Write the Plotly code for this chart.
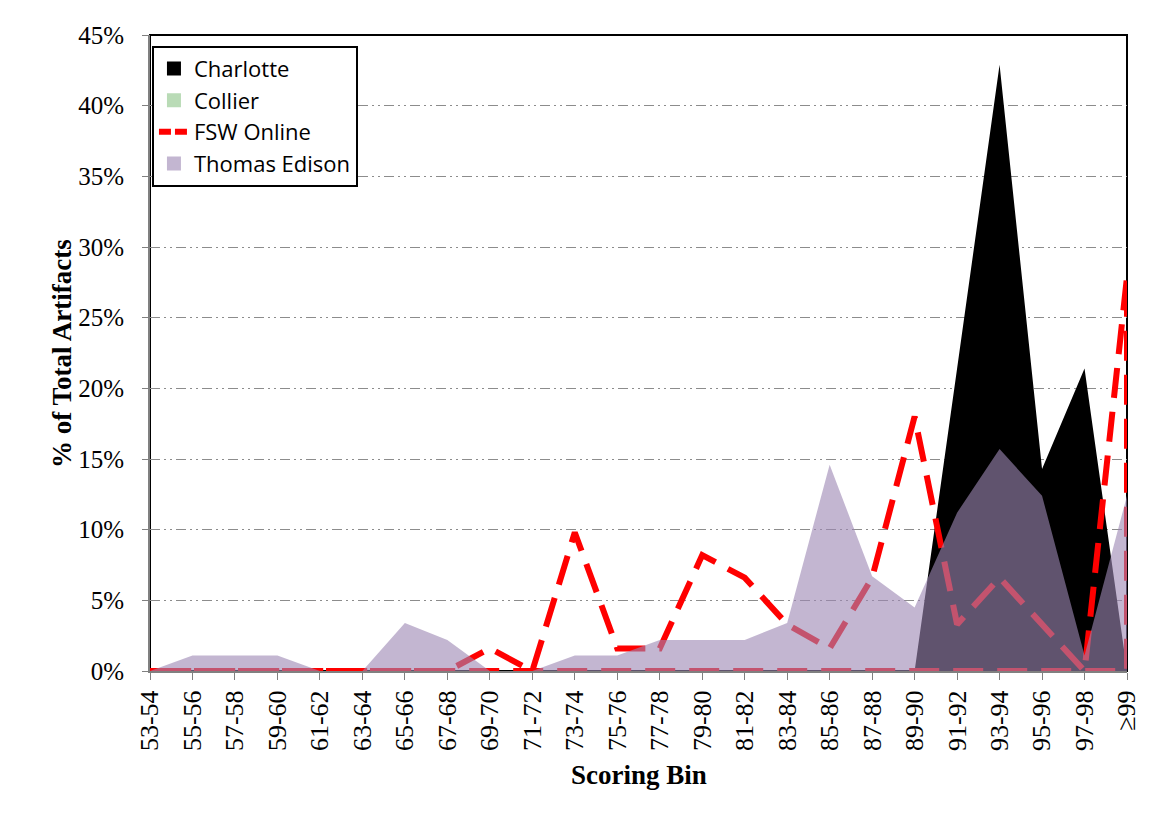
import plotly.graph_objects as go

# scoring bins on the x axis
bins = [
    "53-54", "55-56", "57-58", "59-60", "61-62", "63-64", "65-66", "67-68",
    "69-70", "71-72", "73-74", "75-76", "77-78", "79-80", "81-82", "83-84",
    "85-86", "87-88", "89-90", "91-92", "93-94", "95-96", "97-98", "≥99",
]

# % of total artifacts per bin
charlotte = [0, 0, 0, 0, 0, 0, 0, 0, 0, 0, 0, 0, 0, 0, 0, 0, 0, 0, 0,
             21.4, 42.9, 14.3, 21.4, 0]
collier = [0, 0, 0, 0, 0, 0, 0, 0, 0, 0, 0, 0, 0, 0, 0, 0, 0, 0, 0,
           0, 0, 0, 0, 0]
fsw_online = [0, 0, 0, 0, 0, 0, 0, 0, 1.6, 0, 9.8, 1.6, 1.6, 8.2, 6.6, 3.3,
              1.6, 6.6, 18.0, 3.3, 6.6, 3.3, 0, 27.9]
thomas_edison = [0, 1.1, 1.1, 1.1, 0, 0, 3.4, 2.2, 0, 0, 1.1, 1.1, 2.2, 2.2,
                 2.2, 3.4, 14.6, 6.7, 4.5, 11.2, 15.7, 12.4, 1.1, 12.4]

y_ticks = [0, 5, 10, 15, 20, 25, 30, 35, 40, 45]
y_tick_labels = ["0%", "5%", "10%", "15%", "20%", "25%", "30%", "35%", "40%", "45%"]

BLACK = "#000000"
GREEN = "#b9dbb6"
RED = "#ff0000"
PURPLE = "rgba(157,136,180,0.61)"
SERIF = "Liberation Serif"
SANS = "Open Sans"

fig = go.Figure()

# areas, drawn in series order (later series on top)
fig.add_trace(go.Scatter(x=bins, y=charlotte, mode="none", fill="tozeroy",
                         fillcolor=BLACK, showlegend=False, name="Charlotte"))
fig.add_trace(go.Scatter(x=bins, y=collier, mode="none", fill="tozeroy",
                         fillcolor=GREEN, showlegend=False, name="Collier"))
# FSW Online: unfilled area, only the dashed outline (top edge + baseline)
fig.add_trace(go.Scatter(
    x=bins + bins[::-1],
    y=fsw_online + [0] * len(bins),
    mode="lines",
    line=dict(color=RED, width=6, dash="30px,14px"),
    showlegend=False,
    name="FSW Online",
))
fig.add_trace(go.Scatter(x=bins, y=thomas_edison, mode="none", fill="tozeroy",
                         fillcolor=PURPLE, showlegend=False, name="Thomas Edison"))

# legend entries with square swatches
for name, color in [("Charlotte", BLACK), ("Collier", GREEN)]:
    fig.add_trace(go.Scatter(x=[None], y=[None], mode="markers", name=name,
                             marker=dict(symbol="square", size=14, color=color)))
fig.add_trace(go.Scatter(x=[None], y=[None], mode="lines", name="FSW Online",
                         line=dict(color=RED, width=6, dash="12px,4px")))
fig.add_trace(go.Scatter(x=[None], y=[None], mode="markers", name="Thomas Edison",
                         marker=dict(symbol="square", size=14, color=PURPLE)))

# the page body has an 8px margin, so the figure is 8px smaller than the window
fig.update_layout(
    width=1143,
    height=812,
    margin=dict(l=142, r=24, t=27, b=149, autoexpand=False),
    paper_bgcolor="white",
    plot_bgcolor="white",
    font=dict(family=SERIF, size=25, color="black"),
    showlegend=True,
    xaxis=dict(
        type="category",
        range=[0, len(bins) - 1],
        tickangle=-90,
        tickfont=dict(family=SERIF, size=26, color="black"),
        ticks="outside",
        ticklen=7,
        tickcolor="#808080",
        showline=True,
        linecolor="#808080",
        linewidth=2,
        showgrid=False,
        zeroline=False,
        automargin=False,
    ),
    yaxis=dict(
        range=[0, 45],
        tickmode="array",
        tickvals=y_ticks,
        ticktext=y_tick_labels,
        tickfont=dict(family=SERIF, size=25, color="black"),
        ticks="outside",
        ticklen=6,
        tickcolor="#808080",
        ticklabelstandoff=13,
        showline=True,
        linecolor="#808080",
        linewidth=2,
        showgrid=True,
        gridcolor="#8c8c8c",
        gridwidth=1.3,
        griddash="10px,4px,2px,4px,2px,4px",
        zeroline=False,
        automargin=False,
    ),
    legend=dict(
        x=0.002, y=0.983, xanchor="left", yanchor="top",
        bgcolor="white", bordercolor="black", borderwidth=2,
        font=dict(family=SANS, size=22, color="black"),
        tracegroupgap=0,
    ),
    annotations=[
        dict(text="<b>% of Total Artifacts</b>", xref="paper", yref="paper",
             x=-0.0901, y=0.5, textangle=-90, showarrow=False,
             xanchor="center", yanchor="middle",
             font=dict(family=SERIF, size=27, color="black")),
        dict(text="<b>Scoring Bin</b>", xref="paper", yref="paper",
             x=0.5, y=-0.1635, showarrow=False,
             xanchor="center", yanchor="middle",
             font=dict(family=SERIF, size=27, color="black")),
    ],
    shapes=[
        # plot area frame
        dict(type="rect", xref="paper", yref="paper", x0=0, y0=0, x1=1, y1=1,
             line=dict(color="black", width=2), layer="between"),
        # outer chart border (bottom and right edges fall off the canvas)
        dict(type="rect", xref="paper", yref="paper",
             x0=-0.1474, y0=-0.3, x1=1.04, y1=1.0472,
             line=dict(color="#c0c0c0", width=2), layer="below"),
    ],
)

fig.write_html("out.html")
